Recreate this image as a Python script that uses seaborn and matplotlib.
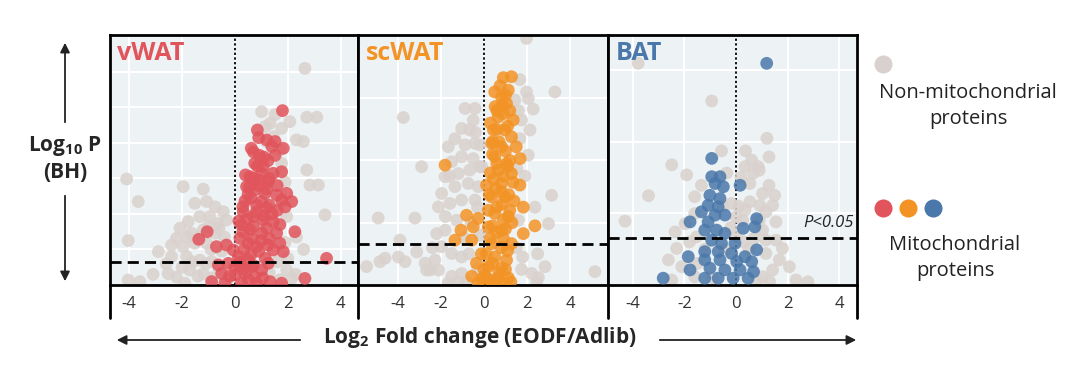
import numpy as np
import pandas as pd
import matplotlib
matplotlib.use("Agg")
import matplotlib.pyplot as plt
from matplotlib.lines import Line2D
import seaborn as sns

# values: (log2 fold change, -log10 P)
vwat_other = [
    (2.65, 12.2), (1.01, 9.76), (1.52, 9.6), (1.14, 8.92), (2.08, 9.2), (2.72, 9.45), (3.1, 9.45),
    (1.77, 8.82), (2.33, 8.17), (2.59, 8.08), (1.46, 8.36), (2.72, 6.48), (2.84, 5.63), (3.16, 5.63),
    (3.41, 3.95), (-4.1, 5.97), (-3.66, 4.7), (-4.04, 2.5), (-1.96, 5.54), (-1.2, 5.4), (-1.52, 4.6),
    (-1.07, 4.7), (-0.75, 4.4), (-0.44, 4.13), (-1.77, 3.57), (-1.33, 3.85), (-0.95, 3.85), (-0.63, 3.47),
    (-0.32, 3.66), (-2.08, 3.2), (-2.21, 2.63), (-1.64, 2.92), (-1.2, 3.1), (-0.75, 2.92), (-2.4, 2.25),
    (-1.96, 2.16), (-1.52, 2.35), (-1.07, 2.35), (-2.9, 1.88), (-2.4, 1.6), (-1.83, 1.6), (-1.33, 1.4),
    (-0.88, 1.32), (-2.53, 0.64), (-2.21, 0.45), (-1.71, 0.84), (-1.2, 0.64), (-4.04, 0.28), (-3.6, 0.19),
    (-1.9, 0.1), (2.15, 0.37), (1.96, 0.84), (2.33, 2.7), (1.96, 3.85), (1.77, 4.6), (1.9, 5.8),
    (1.77, 6.85), (1.7, 7.6), (1.2, 8.08), (1.33, 9.1), (-1.0, 3.3), (-0.6, 3.2), (-1.3, 2.7),
    (-0.4, 2.7), (-0.9, 2.0), (-0.5, 1.9), (-1.6, 1.3), (-1.1, 1.2), (-0.6, 0.9), (-1.4, 0.5),
    (-0.9, 0.4), (-0.3, 0.3), (-2.6, 1.2), (-3.1, 0.6), (-1.8, 2.7), (-2.0, 1.0), (1.6, 1.3),
    (2.0, 1.5), (1.9, 2.4), (2.3, 0.6), (2.6, 2.0), (1.3, 0.7), (1.7, 0.3),
]
vwat_mito = [
    (1.8, 9.82), (0.85, 8.73), (1.2, 8.17), (1.52, 8.08), (1.83, 7.7), (0.62, 7.7), (0.93, 7.3),
    (1.52, 7.3), (0.75, 6.85), (1.07, 6.66), (1.45, 6.29), (1.77, 6.38), (0.57, 6.1), (0.93, 5.91),
    (1.26, 5.82), (0.44, 5.54), (0.75, 5.35), (1.14, 5.16), (1.58, 5.07), (1.96, 5.16), (2.15, 4.7),
    (1.77, 4.79), (0.38, 4.73), (0.82, 4.5), (1.2, 4.34), (0.32, 4.1), (0.7, 3.85), (1.07, 3.66),
    (1.45, 3.57), (0.25, 3.4), (0.57, 3.1), (1.01, 2.92), (1.58, 2.92), (2.27, 3.0), (0.19, 2.63),
    (0.5, 2.35), (0.82, 2.16), (1.26, 2.25), (1.7, 2.35), (1.45, 1.97), (1.83, 1.88), (-1.05, 3.0),
    (-1.37, 2.57), (-0.7, 2.16), (-0.32, 2.25), (-0.06, 1.97), (0.13, 1.6), (0.5, 1.41), (3.47, 1.5),
    (-0.63, 1.13), (-0.25, 1.22), (0.19, 1.13), (0.63, 1.03), (1.01, 0.84), (1.26, 1.22), (-0.5, 0.64),
    (0.0, 0.56), (0.38, 0.64), (0.75, 0.45), (-0.88, 0.19), (-0.38, 0.1), (0.25, 0.1), (0.82, 0.1),
    (1.33, 0.19), (2.65, 0.37), (1.77, 0.1), (0.4, 6.2), (0.7, 6.0), (1.0, 6.3), (1.3, 6.0),
    (0.5, 5.1), (0.9, 5.6), (1.2, 5.4), (1.6, 5.6), (0.3, 4.4), (0.6, 4.9), (1.0, 4.7), (1.3, 4.5),
    (0.45, 3.7), (0.8, 4.1), (1.1, 3.9), (1.4, 4.0), (0.3, 3.0), (0.7, 3.3), (1.2, 3.2), (1.7, 3.4),
    (0.35, 2.0), (0.65, 2.6), (1.0, 2.5), (1.3, 2.6), (0.2, 1.3), (0.6, 1.7), (0.9, 1.9), (1.15, 1.5),
    (0.0, 1.0), (0.3, 0.9), (0.7, 1.1), (-0.2, 0.5), (0.5, 0.3), (1.05, 0.4), (1.1, 7.2), (0.7, 7.5),
    (1.4, 7.8), (0.9, 8.3), (1.6, 4.2), (1.9, 4.4), (0.15, 3.6), (0.55, 5.5), (0.85, 6.7), (1.25, 7.0),
]

scwat_other = [
    (1.98, 7.92), (1.67, 6.6), (1.98, 6.2), (3.3, 6.2), (2.06, 5.99), (2.29, 5.65), (1.44, 5.94),
    (1.75, 5.3), (2.14, 4.98), (1.67, 4.7), (2.06, 4.17), (1.52, 3.74), (3.15, 2.88), (2.37, 2.5),
    (3.0, 1.97), (1.6, 2.08), (2.84, 0.59), (2.22, 0.37), (5.16, 0.43), (1.75, 0.5), (2.45, 0.09),
    (-3.75, 5.38), (-2.9, 3.8), (-4.92, 2.15), (-3.21, 2.15), (-3.91, 1.44), (-5.46, 0.59), (-4.84, 0.75),
    (-4.6, 0.86), (-3.98, 0.9), (-3.67, 0.75), (-3.13, 1.06), (-2.74, 0.7), (-2.28, 0.8), (-2.51, 0.48),
    (-0.88, 5.67), (-0.42, 5.67), (-0.5, 5.29), (-1.04, 5.03), (-0.66, 4.98), (-1.35, 4.7), (-1.66, 4.44),
    (-0.88, 4.5), (-0.42, 4.55), (-1.04, 4.12), (-0.5, 4.06), (-1.5, 3.96), (-1.81, 3.48), (-1.19, 3.58),
    (-0.66, 3.69), (-0.19, 3.8), (-1.97, 2.94), (-1.35, 3.16), (-0.73, 3.26), (-0.27, 3.16), (-2.12, 2.51),
    (-1.58, 2.62), (-1.04, 2.73), (-0.42, 2.73), (-2.2, 1.65), (-1.81, 1.76), (-1.27, 2.08), (-1.97, 1.23),
    (-1.5, 1.01), (-1.04, 0.9), (-2.12, 0.48), (-1.5, 0.28), (-1.04, 0.37), (-1.66, 0.06), (-2.67, 0.48),
    (2.53, 0.24), (-0.2, 4.5), (-0.3, 2.5), (-0.6, 2.0), (-0.9, 1.5), (-0.2, 1.6), (-0.7, 1.0),
    (-0.3, 0.5), (-1.2, 0.1), (-0.8, 0.1), (-1.8, 2.2), (-2.4, 1.2), (-1.6, 3.5), (-0.1, 3.8),
    (-0.4, 4.9), (1.5, 1.2), (1.8, 0.9), (1.9, 3.5), (1.6, 5.6), (2.5, 1.0),
]
scwat_mito = [
    (0.9, 6.66), (1.28, 6.69), (1.13, 6.26), (0.82, 6.04), (0.52, 5.73), (1.05, 5.83), (0.66, 5.4),
    (1.36, 5.3), (0.44, 4.98), (0.97, 4.98), (1.28, 4.76), (0.36, 4.55), (0.82, 4.44), (1.5, 4.44),
    (1.68, 4.06), (0.5, 4.12), (1.05, 3.9), (0.66, 3.69), (1.28, 3.58), (0.12, 3.21), (0.82, 3.26),
    (1.67, 3.21), (0.36, 2.83), (0.97, 2.83), (1.83, 2.5), (2.37, 1.9), (1.83, 1.65), (0.5, 2.3),
    (1.13, 2.2), (0.2, 1.86), (0.82, 1.76), (-1.81, 3.85), (-0.81, 2.24), (-0.27, 2.14), (-1.07, 1.76),
    (-0.5, 1.87), (-1.35, 1.44), (-0.57, 1.44), (0.36, 1.33), (1.28, 1.33), (-0.12, 1.0), (0.5, 0.9),
    (1.05, 0.8), (-0.35, 0.7), (0.2, 0.59), (0.82, 0.55), (-0.57, 0.28), (0.05, 0.28), (0.66, 0.23),
    (1.13, 0.23), (-0.27, 0.06), (0.36, 0.06), (0.97, 0.06), (0.3, 5.2), (0.6, 5.0), (0.9, 5.5),
    (1.1, 5.1), (0.4, 4.2), (0.7, 4.6), (1.0, 4.3), (1.2, 4.0), (0.3, 3.6), (0.6, 3.9), (0.9, 3.5),
    (1.1, 3.8), (0.25, 2.9), (0.55, 3.1), (0.85, 2.6), (1.15, 2.9), (1.4, 2.7), (0.2, 2.4), (0.6, 2.5),
    (0.9, 2.1), (1.2, 2.4), (0.3, 1.5), (0.6, 1.7), (0.9, 1.5), (1.1, 1.1), (0.1, 1.0), (0.4, 0.7),
    (0.7, 0.4), (1.0, 0.5), (0.0, 0.5), (0.2, 0.2), (-0.1, 0.2), (1.25, 0.1), (0.55, 0.05), (0.8, 1.2),
    (0.5, 6.2), (0.75, 6.4), (1.0, 6.1), (0.6, 5.6), (0.85, 5.8), (1.2, 5.6), (0.4, 4.6), (0.45, 3.4),
    (0.8, 3.0), (1.35, 3.3), (1.3, 2.0), (0.4, 1.9), (1.0, 1.8),
]

bat_other = [
    (-3.79, 6.18), (-0.94, 5.13), (1.2, 4.09), (-0.56, 3.74), (0.37, 3.74), (1.28, 3.57), (-2.49, 3.35),
    (-1.91, 3.07), (-3.39, 2.49), (-4.3, 1.78), (0.61, 3.48), (0.86, 3.3), (0.35, 3.3), (-0.36, 3.12),
    (0.67, 3.12), (1.28, 2.78), (-1.34, 2.78), (-1.6, 2.46), (0.54, 2.83), (1.03, 2.55), (1.42, 2.22),
    (0.54, 2.32), (-0.17, 2.27), (0.93, 2.22), (1.16, 2.04), (1.55, 1.76), (0.35, 2.09), (-2.36, 1.48),
    (-1.97, 1.71), (-1.6, 1.99), (0.0, 1.9), (0.26, 1.8), (1.03, 1.53), (1.8, 1.02), (1.55, 1.25),
    (1.16, 1.25), (-2.3, 1.02), (-2.62, 0.7), (-2.1, 0.51), (1.16, 0.88), (1.68, 0.7), (2.07, 0.51),
    (1.42, 0.42), (2.33, 0.14), (2.79, 0.09), (-2.49, 0.14), (-1.6, 0.23), (1.03, 0.23), (-1.53, 1.34),
    (0.03, 1.34), (-0.43, 0.98), (-0.2, 1.6), (0.3, 1.2), (0.7, 1.3), (-0.5, 2.2), (0.1, 2.2),
    (0.9, 1.8), (-1.2, 1.0), (-1.5, 0.6), (-0.9, 0.2), (0.8, 0.1), (1.3, 0.1), (0.5, 1.0),
    (1.5, 2.5), (-1.8, 1.2), (0.9, 3.2), (0.2, 3.0),
]
bat_mito = [
    (1.19, 6.18), (-0.94, 3.53), (-0.94, 3.02), (-0.62, 3.02), (-0.81, 2.83), (-0.49, 2.74), (0.16, 2.78),
    (-1.01, 2.5), (-0.62, 2.41), (-1.08, 2.22), (-0.69, 2.18), (-1.34, 2.04), (-0.81, 1.95), (-0.43, 1.95),
    (-1.78, 1.76), (-1.08, 1.76), (0.8, 1.85), (0.28, 1.58), (0.73, 1.62), (-1.21, 1.53), (-0.75, 1.53),
    (-0.43, 1.44), (-0.94, 1.25), (-0.56, 1.16), (-0.04, 1.16), (0.8, 0.98), (-1.21, 0.93), (-0.69, 0.93),
    (-0.17, 0.88), (0.35, 0.79), (-1.85, 0.79), (-1.21, 0.7), (-0.62, 0.7), (0.03, 0.65), (0.61, 0.65),
    (-1.78, 0.42), (-1.01, 0.47), (-0.43, 0.42), (0.16, 0.42), (0.68, 0.37), (-2.82, 0.19), (-1.21, 0.19),
    (-0.69, 0.19), (-0.11, 0.19), (0.47, 0.19),
]

panel_names = ["vWAT", "scWAT", "BAT"]
panel_colors = ["#e1545b", "#f39325", "#4a78aa"]
other_color = "#d9d1cd"
xlims = [(-4.73, 4.66), (-5.86, 5.77), (-4.96, 4.69)]
ylims = [(0, 14.08), (0, 8.03), (0, 6.97)]
y_grid = [[2, 4, 6, 8, 10, 12], [2, 4, 6], [2, 4, 6]]
x_ticks = [-4, -2, 0, 2, 4]
p_cut = -np.log10(0.05)

sns.set_theme(style="white")
plt.rcParams["font.family"] = ["Open Sans", "DejaVu Sans"]
plt.rcParams["mathtext.fontset"] = "custom"
plt.rcParams["mathtext.rm"] = "Open Sans"
plt.rcParams["mathtext.bf"] = "Open Sans:bold"

fig = plt.figure(figsize=(10.8, 3.71), dpi=100)
W, H = 1080, 371


def fx(px):
    return px / W


def fy(py):
    return (H - py) / H


lefts = [110, 358, 608]
widths = [248, 250, 249]
axes = [fig.add_axes([fx(l), fy(285), w / W, 250 / H]) for l, w in zip(lefts, widths)]

data = [(vwat_other, vwat_mito), (scwat_other, scwat_mito), (bat_other, bat_mito)]

for i, ax in enumerate(axes):
    other, mito = data[i]
    df_o = pd.DataFrame(other, columns=["lfc", "logp"])
    df_m = pd.DataFrame(mito, columns=["lfc", "logp"])

    ax.set_facecolor("#edf2f5")
    ax.set_axisbelow(True)
    ax.set_xticks(x_ticks)
    ax.set_yticks(y_grid[i])
    ax.grid(True, color="white", lw=1.5)
    ax.axvline(0, color="black", ls=(0, (1.3, 1.3)), lw=1.3, zorder=1)

    sns.scatterplot(data=df_o, x="lfc", y="logp", color=other_color, s=85, alpha=0.85,
                    edgecolor="none", legend=False, ax=ax, zorder=2)
    sns.scatterplot(data=df_m, x="lfc", y="logp", color=panel_colors[i], s=85, alpha=0.85,
                    edgecolor="none", legend=False, ax=ax, zorder=3)
    ax.axhline(p_cut, color="black", ls=(0, (4, 2.2)), lw=2, zorder=4)

    ax.set_xlim(*xlims[i])
    ax.set_ylim(*ylims[i])
    ax.set_xlabel("")
    ax.set_ylabel("")
    ax.set_yticklabels([])
    ax.set_xticklabels([str(t) for t in x_ticks], fontsize=12, color="#333333")
    ax.tick_params(axis="both", length=0)
    ax.tick_params(axis="x", pad=8)
    for sp in ax.spines.values():
        sp.set_visible(True)
        sp.set_color("black")
        sp.set_linewidth(2)

    ax.text(0.03, 0.975, panel_names[i], transform=ax.transAxes, ha="left", va="top",
            fontsize=18, fontweight="bold", color=panel_colors[i], zorder=5)

axes[2].text(0.985, p_cut + 0.2, "P<0.05", transform=axes[2].get_yaxis_transform(),
             ha="right", va="bottom", fontsize=12, style="italic", color="#222222")

# dividers in the tick-label strip
for px in [110, 358, 608, 857]:
    fig.add_artist(Line2D([fx(px), fx(px)], [fy(285), fy(318)], color="black", lw=2,
                          transform=fig.transFigure))

# axis labels with arrows
fig.text(fx(65), fy(159), "Log$_\\mathbf{10}$ P\n(BH)", ha="center", va="center",
         fontsize=15, fontweight="bold", linespacing=1.25)
arrow = dict(arrowstyle="-|>", color="#222222", lw=1.3, mutation_scale=14)
fig.add_artist(matplotlib.patches.FancyArrowPatch((fx(65), fy(125)), (fx(65), fy(40)),
                                                  transform=fig.transFigure, **arrow))
fig.add_artist(matplotlib.patches.FancyArrowPatch((fx(65), fy(193)), (fx(65), fy(284)),
                                                  transform=fig.transFigure, **arrow))

fig.text(fx(480), fy(338), "Log$_\\mathbf{2}$ Fold change (EODF/Adlib)", ha="center", va="center",
         fontsize=15, fontweight="bold")
fig.add_artist(matplotlib.patches.FancyArrowPatch((fx(303), fy(340)), (fx(114), fy(340)),
                                                  transform=fig.transFigure, **arrow))
fig.add_artist(matplotlib.patches.FancyArrowPatch((fx(657), fy(340)), (fx(859), fy(340)),
                                                  transform=fig.transFigure, **arrow))

# legend on the right
fig.add_artist(Line2D([fx(883)], [fy(64)], marker="o", ms=13, color=other_color, mec="none",
                      transform=fig.transFigure))
fig.text(fx(968), fy(106), "Non-mitochondrial\nproteins", ha="center", va="center",
         fontsize=14.5, color="#222222", linespacing=1.35)
for k, c in enumerate(panel_colors):
    fig.add_artist(Line2D([fx(883 + 25 * k)], [fy(208)], marker="o", ms=13, color=c, mec="none",
                          transform=fig.transFigure))
fig.text(fx(955), fy(258), "Mitochondrial\nproteins", ha="center", va="center",
         fontsize=14.5, color="#222222", linespacing=1.35)

fig.savefig("out.png", dpi=100)
